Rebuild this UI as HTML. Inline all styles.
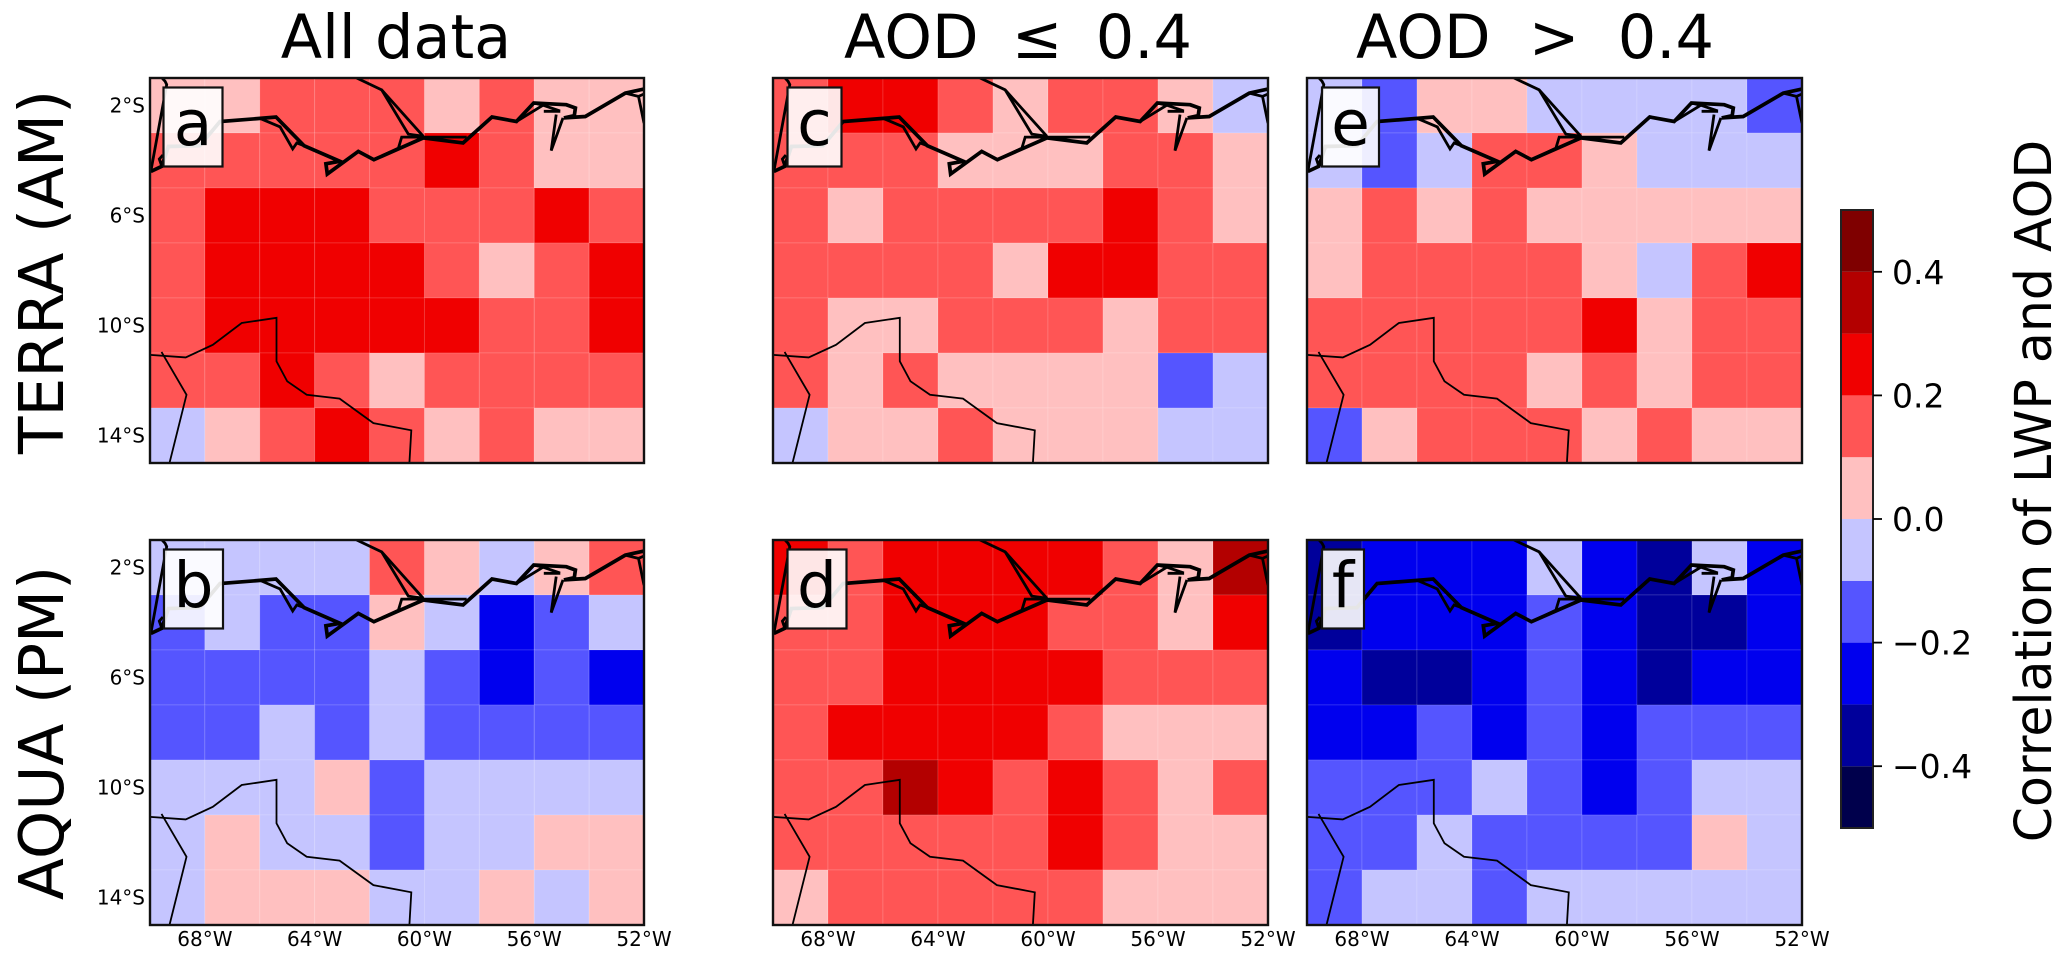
<!DOCTYPE html>
<html lang="en">
<head>
<meta charset="utf-8">
<title>Correlation of LWP and AOD</title>
<style>
  html, body { margin: 0; padding: 0; background: #fff; }
  svg { display: block; font-family: "DejaVu Sans", "Liberation Sans", sans-serif; }
</style>
</head>
<body>
<svg id="chart" xmlns="http://www.w3.org/2000/svg" width="2067" height="958" viewBox="0 0 2067 958">
  <rect x="0" y="0" width="2067" height="958" fill="#ffffff"/>
  <text x="396" y="58" font-size="60.5" text-anchor="middle">All data</text>
  <text x="1018" y="58" font-size="60.5" text-anchor="middle" word-spacing="14">AOD ≤ 0.4</text>
  <text x="1535" y="58" font-size="60.5" text-anchor="middle" word-spacing="19">AOD &gt; 0.4</text>
  <text transform="translate(63,272) rotate(-90)" font-size="61.5" text-anchor="middle">TERRA (AM)</text>
  <text transform="translate(63,733) rotate(-90)" font-size="61.5" text-anchor="middle">AQUA (PM)</text>
  <text transform="translate(2051,491) rotate(-90)" font-size="50.5" text-anchor="middle">Correlation of LWP and AOD</text>
</svg>
<script>
// Colour levels (upper bound of each bin runs from levelEdges[i] to levelEdges[i+1])
const levelEdges = [-0.5, -0.4, -0.3, -0.2, -0.1, 0, 0.1, 0.2, 0.3, 0.4, 0.5];
const levelColors = ['#00004c', '#00009b', '#0000ee', '#5555ff', '#c5c5ff', '#ffc0c0', '#ff5555', '#f00000', '#b30000', '#7f0000'];
const colorbarTicks = [0.4, 0.2, 0, -0.2, -0.4];
const colorbarTickLabels = ['0.4', '0.2', '0.0', '\u22120.2', '\u22120.4'];

// Axis ticks
const lonTicks = [-68, -64, -60, -56, -52];
const lonTickLabels = ['68°W', '64°W', '60°W', '56°W', '52°W'];
const latTicks = [-2, -6, -10, -14];
const latTickLabels = ['2°S', '6°S', '10°S', '14°S'];

// Correlation values, rows north to south, columns west to east
const panelA = [
  [0.05, 0.05, 0.15, 0.15, 0.15, 0.05, 0.15, 0.05, 0.05],
  [0.15, 0.15, 0.15, 0.15, 0.15, 0.25, 0.15, 0.05, 0.05],
  [0.15, 0.25, 0.25, 0.25, 0.15, 0.15, 0.15, 0.25, 0.15],
  [0.15, 0.25, 0.25, 0.25, 0.25, 0.15, 0.05, 0.15, 0.25],
  [0.15, 0.25, 0.25, 0.25, 0.25, 0.25, 0.15, 0.15, 0.25],
  [0.15, 0.15, 0.25, 0.15, 0.05, 0.15, 0.15, 0.15, 0.15],
  [-0.05, 0.05, 0.15, 0.25, 0.15, 0.05, 0.15, 0.05, 0.05]
];
const panelB = [
  [-0.05, -0.05, -0.05, -0.05, 0.15, 0.05, -0.05, 0.05, 0.15],
  [-0.15, -0.05, -0.15, -0.15, 0.05, -0.05, -0.25, -0.15, -0.05],
  [-0.15, -0.15, -0.15, -0.15, -0.05, -0.15, -0.25, -0.15, -0.25],
  [-0.15, -0.15, -0.05, -0.15, -0.05, -0.15, -0.15, -0.15, -0.15],
  [-0.05, -0.05, -0.05, 0.05, -0.15, -0.05, -0.05, -0.05, -0.05],
  [-0.05, 0.05, -0.05, -0.05, -0.15, -0.05, -0.05, 0.05, 0.05],
  [-0.05, 0.05, 0.05, 0.05, -0.05, -0.05, 0.05, -0.05, 0.05]
];
const panelC = [
  [0.15, 0.25, 0.25, 0.15, 0.05, 0.15, 0.15, 0.05, -0.05],
  [0.15, 0.15, 0.15, 0.05, 0.05, 0.05, 0.15, 0.15, 0.05],
  [0.15, 0.05, 0.15, 0.15, 0.15, 0.15, 0.25, 0.15, 0.05],
  [0.15, 0.15, 0.15, 0.15, 0.05, 0.25, 0.25, 0.15, 0.15],
  [0.15, 0.05, 0.05, 0.15, 0.15, 0.15, 0.05, 0.15, 0.15],
  [0.15, 0.05, 0.15, 0.05, 0.05, 0.05, 0.05, -0.15, -0.05],
  [-0.05, 0.05, 0.05, 0.15, 0.05, 0.05, 0.05, -0.05, -0.05]
];
const panelD = [
  [0.25, 0.15, 0.25, 0.25, 0.25, 0.25, 0.15, 0.05, 0.35],
  [0.15, 0.15, 0.25, 0.25, 0.25, 0.15, 0.15, 0.05, 0.25],
  [0.15, 0.15, 0.25, 0.25, 0.25, 0.25, 0.15, 0.15, 0.15],
  [0.15, 0.25, 0.25, 0.25, 0.25, 0.15, 0.05, 0.05, 0.05],
  [0.15, 0.15, 0.35, 0.25, 0.15, 0.25, 0.15, 0.05, 0.15],
  [0.15, 0.15, 0.15, 0.15, 0.15, 0.25, 0.15, 0.05, 0.05],
  [0.05, 0.15, 0.15, 0.15, 0.15, 0.15, 0.05, 0.05, 0.05]
];
const panelE = [
  [-0.05, -0.15, 0.05, 0.05, -0.05, -0.05, -0.05, -0.05, -0.15],
  [-0.05, -0.15, -0.05, 0.15, 0.15, 0.05, -0.05, -0.05, -0.05],
  [0.05, 0.15, 0.05, 0.15, 0.05, 0.05, 0.05, 0.05, 0.05],
  [0.05, 0.15, 0.15, 0.15, 0.15, 0.05, -0.05, 0.15, 0.25],
  [0.15, 0.15, 0.15, 0.15, 0.15, 0.25, 0.05, 0.15, 0.15],
  [0.15, 0.15, 0.15, 0.15, 0.05, 0.15, 0.05, 0.15, 0.15],
  [-0.15, 0.05, 0.15, 0.15, 0.15, 0.05, 0.15, 0.05, 0.05]
];
const panelF = [
  [-0.35, -0.25, -0.25, -0.25, -0.05, -0.25, -0.35, -0.05, -0.25],
  [-0.35, -0.25, -0.25, -0.25, -0.15, -0.25, -0.35, -0.35, -0.25],
  [-0.25, -0.35, -0.35, -0.25, -0.15, -0.25, -0.35, -0.25, -0.25],
  [-0.25, -0.25, -0.15, -0.25, -0.15, -0.25, -0.15, -0.15, -0.15],
  [-0.15, -0.15, -0.15, -0.05, -0.15, -0.25, -0.15, -0.05, -0.05],
  [-0.15, -0.15, -0.05, -0.15, -0.15, -0.15, -0.15, 0.05, -0.05],
  [-0.15, -0.05, -0.05, -0.15, -0.05, -0.05, -0.05, -0.05, -0.05]
];

// Map geometry as [lon, lat]
const riverMain = [[-69.97,-4.40],[-69.57,-4.21],[-69.33,-3.49],[-68.18,-3.46],[-67.45,-2.58],[-65.99,-2.47],[-65.41,-2.42],[-64.39,-3.46],[-63.08,-4.03],[-63.59,-4.12],[-63.54,-4.49],[-62.41,-3.67],[-61.84,-3.97],[-60.04,-3.18],[-58.59,-3.36],[-57.54,-2.42],[-56.65,-2.58],[-56.02,-1.91],[-54.83,-1.97],[-54.50,-2.09],[-54.54,-2.37],[-54.92,-2.45],[-54.14,-2.40],[-52.68,-1.55],[-52.0,-1.40]];
const riverBranches = [
  [[-65.99,-2.47],[-65.26,-2.78],[-64.80,-3.58],[-64.65,-3.36],[-64.39,-3.46]],
  [[-62.47,-1],[-61.56,-1.43],[-60.04,-3.12]],
  [[-61.56,-1.43],[-60.59,-3.04],[-60.04,-3.12]],
  [[-61.84,-3.97],[-60.95,-3.55],[-60.83,-3.15],[-58.46,-3.15]],
  [[-56.02,-1.91],[-55.68,-1.99],[-56.65,-2.58]],
  [[-55.68,-1.99],[-55.06,-2.2]],
  [[-55.65,-2.21],[-55.05,-2.21]],
  [[-55.2,-2.33],[-55.38,-3.64],[-54.95,-2.45]],
  [[-52.68,-1.55],[-52.2,-1.67],[-52,-2.64]],
  [[-52.2,-1.67],[-52,-1.58]],
  [[-69.57,-4.21],[-69.66,-3.95],[-69.53,-3.8]],
  [[-69.56,-1],[-69.45,-1.12],[-69.39,-1.24],[-69.97,-4.40]]
];
const borderLines = [
  [[-70,-11.07],[-68.70,-11.16],[-67.71,-10.70],[-66.66,-9.91],[-65.39,-9.72],[-65.39,-11.30],[-65.00,-12.03],[-64.29,-12.52],[-63.09,-12.66],[-61.86,-13.55],[-60.48,-13.81],[-60.55,-15]],
  [[-69.58,-10.96],[-68.67,-12.52],[-69.29,-15]]
];

const SVG_NS = 'http://www.w3.org/2000/svg';
const svg = document.getElementById('chart');
const LON_MIN = -70, LON_MAX = -52, LAT_MAX = -1, LAT_MIN = -15;
const CB_TOP = 210, CB_BOTTOM = 828, CB_LEFT = 1841, CB_RIGHT = 1873;

function make(tag, attrs, parent) {
  const el = document.createElementNS(SVG_NS, tag);
  for (const k in attrs) el.setAttribute(k, attrs[k]);
  parent.appendChild(el);
  return el;
}
function colorFor(v) {
  for (let i = 0; i < levelColors.length; i++) {
    if (v < levelEdges[i + 1]) return levelColors[i];
  }
  return levelColors[levelColors.length - 1];
}
function xAxis(p, lon) { return p.left + (lon - LON_MIN) / (LON_MAX - LON_MIN) * (p.right - p.left); }
function yAxis(p, lat) { return p.top + (LAT_MAX - lat) / (LAT_MAX - LAT_MIN) * (p.bottom - p.top); }
function cbAxis(v) { return CB_BOTTOM - (v - levelEdges[0]) / (levelEdges[levelEdges.length - 1] - levelEdges[0]) * (CB_BOTTOM - CB_TOP); }
function pointsFor(p, line) { return line.map(function (q) { return xAxis(p, q[0]).toFixed(1) + ',' + yAxis(p, q[1]).toFixed(1); }).join(' '); }

const panels = [
  { id: 'a', data: panelA, left: 150, right: 644, top: 78, bottom: 463, boxL: 13.5, boxR: 72.5, yLabels: true, xLabels: false },
  { id: 'b', data: panelB, left: 150, right: 644, top: 540, bottom: 925, boxL: 14, boxR: 73, yLabels: true, xLabels: true },
  { id: 'c', data: panelC, left: 773, right: 1268, top: 78, bottom: 463, boxL: 14.5, boxR: 68.5, yLabels: false, xLabels: false },
  { id: 'd', data: panelD, left: 773, right: 1268, top: 540, bottom: 925, boxL: 14.5, boxR: 73.5, yLabels: false, xLabels: true },
  { id: 'e', data: panelE, left: 1307, right: 1802, top: 78, bottom: 463, boxL: 15, boxR: 72, yLabels: false, xLabels: false },
  { id: 'f', data: panelF, left: 1307, right: 1802, top: 540, bottom: 925, boxL: 15, boxR: 57, yLabels: false, xLabels: true }
];

const defs = make('defs', {}, svg);

panels.forEach(function (p) {
  const clip = make('clipPath', { id: 'clip-' + p.id }, defs);
  make('rect', { x: p.left, y: p.top, width: p.right - p.left, height: p.bottom - p.top }, clip);

  const group = make('g', {}, svg);
  
  

  p.data.forEach(function (row, r) {
    row.forEach(function (v, c) {
      const x0 = xAxis(p, LON_MIN + 2 * c), x1 = xAxis(p, LON_MIN + 2 * (c + 1));
      const y0 = yAxis(p, LAT_MAX - 2 * r), y1 = yAxis(p, LAT_MAX - 2 * (r + 1));
      const cell = make('rect', { x: x0, y: y0, width: x1 - x0, height: y1 - y0, fill: colorFor(v), stroke: 'rgba(255,255,255,0.13)', 'stroke-width': 1 }, group);
      
      
    });
  });

  const map = make('g', { 'clip-path': 'url(#clip-' + p.id + ')', fill: 'none', stroke: '#000', 'stroke-linejoin': 'miter' }, group);
  
  
  const main = make('polyline', { points: pointsFor(p, riverMain), 'stroke-width': 3.7 }, map);
  
  
  riverBranches.forEach(function (line) {
    const b = make('polyline', { points: pointsFor(p, line), 'stroke-width': 2.8 }, map);
    
    
  });
  borderLines.forEach(function (line) {
    const b = make('polyline', { points: pointsFor(p, line), 'stroke-width': 1.8 }, map);
    
    
  });

  const frame = make('rect', { x: p.left, y: p.top, width: p.right - p.left, height: p.bottom - p.top, fill: 'none', stroke: '#111', 'stroke-width': 2.4 }, group);
  
  

  const box = make('rect', { x: p.left + p.boxL, y: p.top + 9.5, width: p.boxR - p.boxL, height: 79, fill: 'rgba(255,255,255,0.9)', stroke: '#111', 'stroke-width': 2.2 }, group);
  
  
  const letter = make('text', { x: p.left + (p.boxL + p.boxR) / 2, y: p.top + 67, 'font-size': 63, 'text-anchor': 'middle', fill: '#000' }, group);
  letter.textContent = p.id;
  
  

  if (p.yLabels) {
    latTicks.forEach(function (lat, i) {
      const t = make('text', { x: p.left - 5, y: yAxis(p, lat) + 7, 'font-size': 20, 'text-anchor': 'end', fill: '#000' }, group);
      t.textContent = latTickLabels[i];
      
      
    });
  }
  if (p.xLabels) {
    lonTicks.forEach(function (lon, i) {
      const t = make('text', { x: xAxis(p, lon), y: p.bottom + 21, 'font-size': 20, 'text-anchor': 'middle', fill: '#000' }, group);
      t.textContent = lonTickLabels[i];
      
      
    });
  }
});

const colorbar = make('g', {}, svg);


levelColors.forEach(function (col, i) {
  const yTop = cbAxis(levelEdges[i + 1]), yBot = cbAxis(levelEdges[i]);
  const seg = make('rect', { x: CB_LEFT, y: yTop, width: CB_RIGHT - CB_LEFT, height: yBot - yTop, fill: col }, colorbar);
  
  
});
const cbFrame = make('rect', { x: CB_LEFT, y: CB_TOP, width: CB_RIGHT - CB_LEFT, height: CB_BOTTOM - CB_TOP, fill: 'none', stroke: '#222', 'stroke-width': 2 }, colorbar);


colorbarTicks.forEach(function (v, i) {
  const y = cbAxis(v);
  const tick = make('line', { x1: CB_RIGHT, x2: CB_RIGHT + 9, y1: y, y2: y, stroke: '#000', 'stroke-width': 1.8 }, colorbar);
  
  
  const label = make('text', { x: CB_RIGHT + 19, y: y + 12, 'font-size': 33, fill: '#000' }, colorbar);
  label.textContent = colorbarTickLabels[i];
  
  
});
</script>
</body>
</html>
